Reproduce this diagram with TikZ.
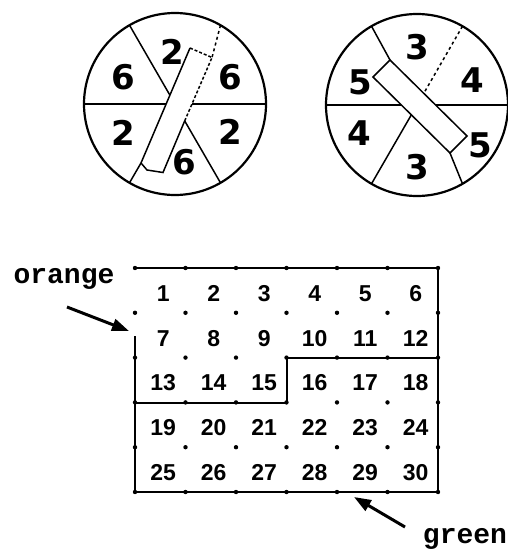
\documentclass[tikz,border=0pt]{standalone}
\usepackage{fontspec}
\setmainfont{Liberation Sans}
\newfontfamily\discfont{DejaVu Sans}
\newfontfamily\tagfont{Liberation Mono}
\usetikzlibrary{arrows.meta}

\begin{document}
\begin{tikzpicture}[x=1pt,y=-1pt,
  rim/.style={line width=2.2pt},
  sector/.style={line width=1.5pt},
  dnum/.style={font=\discfont\bfseries\fontsize{34}{34}\selectfont, inner sep=0pt},
  gnum/.style={font=\bfseries\fontsize{23}{23}\selectfont, inner sep=0pt},
  tag/.style={font=\tagfont\bfseries\fontsize{28}{28}\selectfont, inner sep=0pt, anchor=base},
  gridline/.style={line width=2pt},
  arr/.style={line width=3pt, -{Triangle[length=17pt,width=12pt]}}]

\useasboundingbox (0,0) rectangle (508,552);

% disco sinistro
\draw[rim] (175,104) circle [radius=91pt];
\draw[sector] (84,104) -- (166,104);
\draw[sector] (192,104) -- (266,104);
\draw[sector] (129.5,25.2) -- (169.8,95);
\draw[sector, dashed] (220.5,25.2) -- (212,57.5);
\draw[sector] (129.5,182.8) -- (141,163);
\draw[sector] (220.5,182.8) -- (184.7,120.9);
% striscia
\draw[sector] (190,48) -- (141,163) -- (147,170) -- (163,172.5) -- (184.7,120.9);
\draw[sector, densely dashed] (184.7,120.9) -- (212,57.5) -- (190,48);

\foreach \n/\x/\y/\t in {a/123/77/6, b/172/52/2, c/230/77/6, d/123/133/2, e/230/132/2, f/184/162/6}
  \node[dnum] (L\n) at (\x,\y) {\t};

% disco destro
\draw[rim] (417,105) circle [radius=91pt];
\draw[sector] (326,105) -- (401.3,105);
\draw[sector] (435.5,105) -- (508,105);
\draw[sector] (371.5,26.2) -- (390,60);
\draw[sector, dashed] (462.5,26.2) -- (423.8,93.3);
\draw[sector] (371.5,183.8) -- (411.3,114.9);
\draw[sector] (462.5,183.8) -- (450,153);
% striscia
\draw[sector] (373,77) -- (390,60) -- (467,136) -- (450,153) -- cycle;

\foreach \n/\x/\y/\t in {a/360/82/5, b/417/47/3, c/472/80/4, d/359/133/4, e/417/167/3, f/480/145/5}
  \node[dnum] (R\n) at (\x,\y) {\t};

% griglia
\draw[gridline] (135,336) -- (135,492) -- (438,492) -- (438,268) -- (135,268);
\draw[gridline] (135,403) -- (286.5,403) -- (286.5,358) -- (438,358);
\foreach \i in {0,...,6}
  \foreach \j in {0,...,5}
    \fill ({135+50.5*\i},{268+44.8*\j}) circle [radius=2.2pt];

\foreach \r in {0,...,4}
  \foreach \c in {0,...,5} {
    \pgfmathtruncatemacro\k{6*\r+\c+1}
    \node[gnum] (c\k) at ({138+50.5*(\c+0.5)},{271+44.8*(\r+0.5)}) {\k};
  }

% etichette
\node[tag] (orange) at (64,283) {orange};
\coordinate (orangetail) at (67,307);
\coordinate (orangetip) at (129,331);
\draw[arr] (orangetail) -- (orangetip);

\node[tag] (green) at (465,543) {green};
\coordinate (greentail) at (405,527);
\coordinate (greentip) at (354,497);
\draw[arr] (greentail) -- (greentip);

\end{tikzpicture}
\end{document}
